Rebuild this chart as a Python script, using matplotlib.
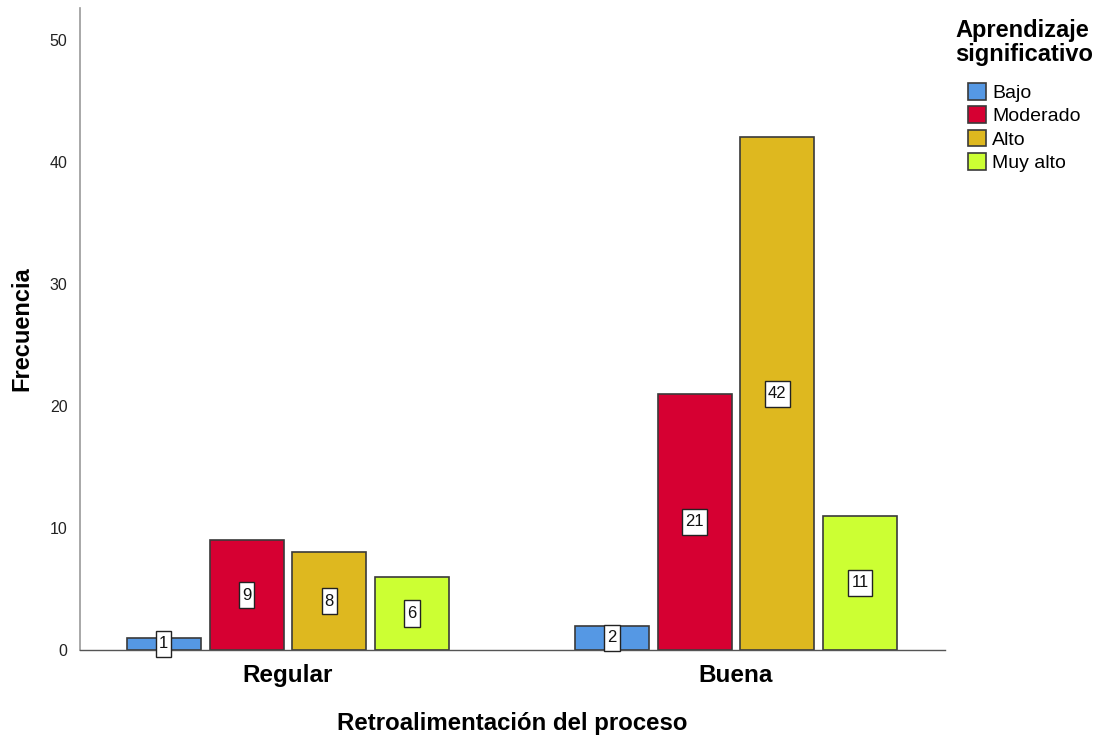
import matplotlib
matplotlib.use("Agg")
import matplotlib.pyplot as plt
from matplotlib.patches import Patch
from matplotlib.path import Path
import numpy as np

plt.rcParams['font.family'] = ['Liberation Sans', 'DejaVu Sans']

categories = ["Regular", "Buena"]
levels = ["Bajo", "Moderado", "Alto", "Muy alto"]
counts = {
    "Bajo": [1, 2],
    "Moderado": [9, 21],
    "Alto": [8, 42],
    "Muy alto": [6, 11],
}
colors = ["#5598E4", "#D60032", "#DEB81F", "#CCFF33"]


def tall_box(x0, y0, width, height, mutation_size):
    """Rectangular label box with more vertical than horizontal padding."""
    px = 0.18 * mutation_size
    py = 0.34 * mutation_size
    x0, x1 = x0 - px, x0 + width + px
    y0, y1 = y0 - py, y0 + height + py
    return Path([(x0, y0), (x1, y0), (x1, y1), (x0, y1), (x0, y0)], closed=True)


fig = plt.figure(figsize=(11, 7.4), dpi=100)
ax = fig.add_axes([80 / 1100, 90 / 740, 865 / 1100, 642 / 740])

x = np.arange(len(categories))
width = 0.165
step = 0.1846
offsets = (np.arange(len(levels)) - 1.5) * step

for i, lvl in enumerate(levels):
    vals = counts[lvl]
    ax.bar(x + offsets[i], vals, width=width, color=colors[i],
           edgecolor="#3a3a3a", linewidth=1.2, zorder=2)
    for xi, v in zip(x + offsets[i], vals):
        ax.text(xi, v / 2, str(v), ha="center", va="center", fontsize=12,
                color="#111111", zorder=4,
                bbox=dict(boxstyle=tall_box, facecolor="white",
                          edgecolor="#222222", linewidth=1.0))

ax.set_xlim(-0.464, 1.4665)
ax.set_ylim(0, 52.6)
ax.set_yticks([0, 10, 20, 30, 40, 50])
ax.set_xticks(x)
ax.set_xticklabels(categories, fontsize=17.5, fontweight="bold")
ax.tick_params(axis="y", length=0, pad=9, labelsize=11.5, labelcolor="#222222")
ax.tick_params(axis="x", length=0, pad=10)

for s in ["top", "right"]:
    ax.spines[s].set_visible(False)
ax.spines["left"].set_color("#999999")
ax.spines["left"].set_linewidth(1.2)
ax.spines["bottom"].set_color("#555555")
ax.spines["bottom"].set_linewidth(1.0)

ax.set_ylabel("Frecuencia", fontsize=17, fontweight="bold", labelpad=12)
ax.set_xlabel("Retroalimentación del proceso", fontsize=17.3, fontweight="bold",
              labelpad=18)

# legend title and entries
fig.text(955 / 1100, 1 - 19 / 740, "Aprendizaje\nsignificativo", ha="left",
         va="top", fontsize=17, fontweight="bold", linespacing=1.08)
handles = [Patch(facecolor=c, edgecolor="#3a3a3a", linewidth=1.2) for c in colors]
fig.legend(handles, levels, loc="upper left",
           bbox_to_anchor=(968 / 1100, 1 - 83 / 740), frameon=False,
           fontsize=14, handlelength=0.95, handleheight=0.95,
           handletextpad=0.3, labelspacing=0.22, borderpad=0,
           borderaxespad=0)

fig.savefig("out.png", dpi=100)
